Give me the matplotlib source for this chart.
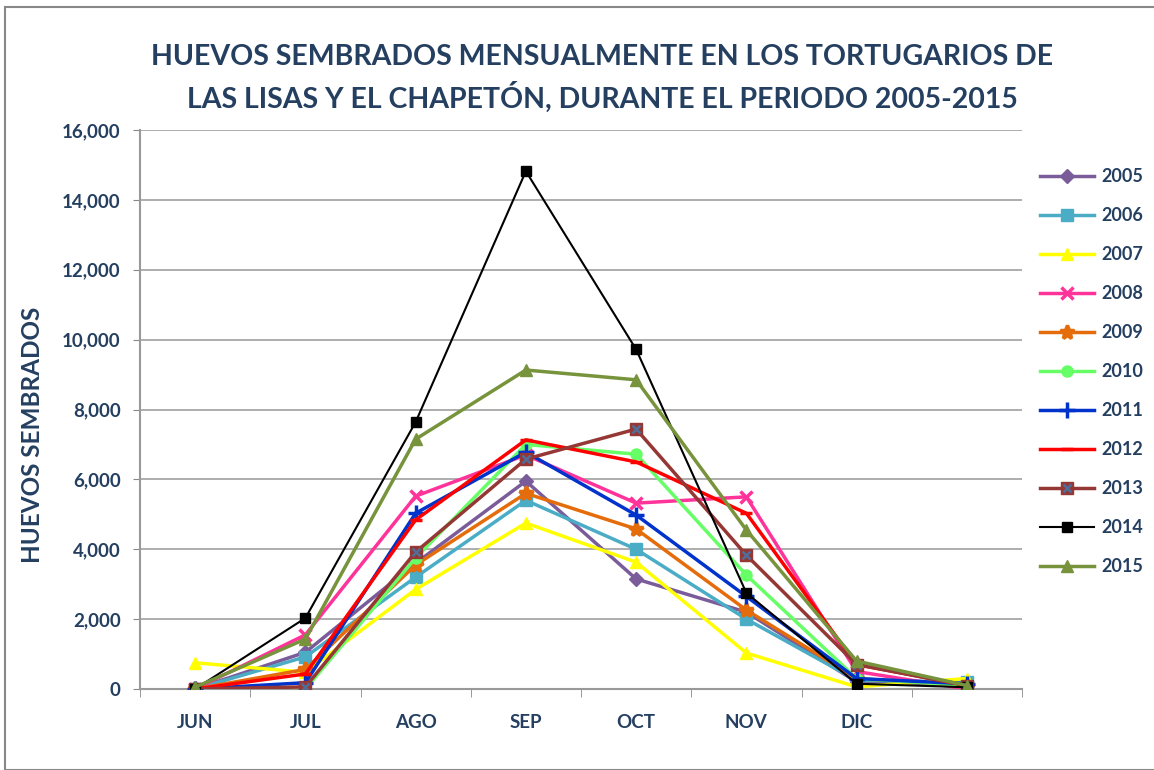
import matplotlib
matplotlib.use("Agg")
import matplotlib.pyplot as plt
import numpy as np
from matplotlib.lines import Line2D
from matplotlib.patches import Rectangle
from matplotlib.ticker import FuncFormatter, MultipleLocator
from matplotlib.legend_handler import HandlerTuple

months = ["JUN", "JUL", "AGO", "SEP", "OCT", "NOV", "DIC", ""]

y2005 = [0, 1050, 3600, 5950, 3150, 2200, 200, 100]
y2006 = [0, 920, 3200, 5400, 4000, 2000, 250, 200]
y2007 = [750, 480, 2850, 4750, 3630, 1030, 60, 300]
y2008 = [0, 1550, 5520, 6700, 5320, 5500, 500, 0]
y2009 = [0, 560, 3550, 5600, 4580, 2260, 300, 100]
y2010 = [0, 0, 3750, 7000, 6720, 3260, 300, 100]
y2011 = [0, 180, 5030, 6780, 4980, 2650, 300, 150]
y2012 = [0, 430, 4840, 7130, 6500, 5030, 700, 100]
y2013 = [0, 60, 3920, 6580, 7440, 3830, 700, 100]
y2014 = [0, 2030, 7640, 14820, 9720, 2750, 150, 50]
y2015 = [50, 1430, 7150, 9130, 8850, 4550, 800, 100]

years = ["2005", "2006", "2007", "2008", "2009", "2010",
         "2011", "2012", "2013", "2014", "2015"]
series = [y2005, y2006, y2007, y2008, y2009, y2010,
          y2011, y2012, y2013, y2014, y2015]

colors = ["#7B5C9A", "#4BACC6", "#FFFF00", "#FF3399", "#E46C0A", "#66FF66",
          "#0033CC", "#FF0000", "#953735", "#000000", "#77933C"]
markers = ["D", "s", "^", "x", "*", "o", "+", "_", "s", "s", "^"]
msizes = [7, 8, 9, 9, 10, 8, 11, 9, 8, 7, 9]
lwidths = [2.5, 2.5, 2.5, 2.5, 2.5, 2.5, 2.5, 2.5, 2.5, 1.5, 2.5]

txtc = "#243F60"
plt.rcParams['font.family'] = ['Lato', 'DejaVu Sans']

fig = plt.figure(figsize=(11.54, 7.70), dpi=100)
fig.patches.append(Rectangle((5/1154, 0), 1.2, 1 - 7/770, transform=fig.transFigure,
                             fill=False, edgecolor="#888888", linewidth=1.5))
ax = fig.add_axes([140/1154, 1 - 689/770, 882/1154, 559/770])

x = np.arange(len(months))
handles = []
for i, (yr, ys) in enumerate(zip(years, series)):
    c = colors[i]
    mew = 2.5 if markers[i] in ("x", "+", "_", "*") else 1
    ln, = ax.plot(x, ys, color=c, lw=lwidths[i], marker=markers[i], ms=msizes[i],
                  mfc=c, mec=c, mew=mew, zorder=3 + i * 0.1)
    if yr == "2013":
        ax.plot(x, ys, lw=0, marker="x", ms=6, mec="#4F6E9A", mew=1.8,
                zorder=3 + i * 0.1 + 0.05)
        lx = Line2D([], [], lw=0, marker="x", ms=6, mec="#4F6E9A", mew=1.8)
        handles.append((ln, lx))
    else:
        handles.append(ln)

ax.set_xlim(-0.5, 7.5)
ax.set_ylim(0, 16000)
ax.yaxis.set_major_locator(MultipleLocator(2000))
ax.yaxis.set_major_formatter(FuncFormatter(lambda v, p: f"{int(v):,}"))
ax.set_xticks(x)
ax.set_xticklabels(months)
ax.set_xticks(np.arange(-0.5, 8, 1), minor=True)
ax.tick_params(axis="x", which="major", length=0, pad=18)
ax.tick_params(axis="x", which="minor", length=6, color="#888888")
ax.tick_params(axis="y", length=5, color="#888888", pad=9)
for lab in ax.get_xticklabels() + ax.get_yticklabels():
    lab.set_fontsize(13.5)
    lab.set_fontweight("bold")
    lab.set_color(txtc)

ax.grid(axis="y", color="#A0A0A0", lw=1.2)
ax.set_axisbelow(True)
for s in ["top", "right"]:
    ax.spines[s].set_visible(False)
for s in ["left", "bottom"]:
    ax.spines[s].set_color("#999999")
    ax.spines[s].set_linewidth(1.5)

fig.text(33/1154, 1 - 435/770, "HUEVOS SEMBRADOS", rotation=90, ha="center", va="center",
         fontsize=17.5, fontweight="bold", color=txtc)

fig.text(0.522, 1 - 57/770, "HUEVOS SEMBRADOS MENSUALMENTE EN LOS TORTUGARIOS DE",
         ha="center", va="center", fontsize=20.5, fontweight="bold", color=txtc)
fig.text(0.522, 1 - 97/770, "LAS LISAS Y EL CHAPETÓN, DURANTE EL PERIODO 2005-2015",
         ha="center", va="center", fontsize=20.5, fontweight="bold", color=txtc)

leg = fig.legend(handles, years, loc="upper left", bbox_to_anchor=(1033/1154, 1 - 161/770),
                 frameon=False, labelspacing=1.22, handlelength=3.0,
                 handletextpad=0.4, borderaxespad=0,
                 handler_map={tuple: HandlerTuple(ndivide=1, pad=0)},
                 prop={"size": 13, "weight": "bold"})
for t in leg.get_texts():
    t.set_color(txtc)

fig.savefig("out.png", dpi=100)
